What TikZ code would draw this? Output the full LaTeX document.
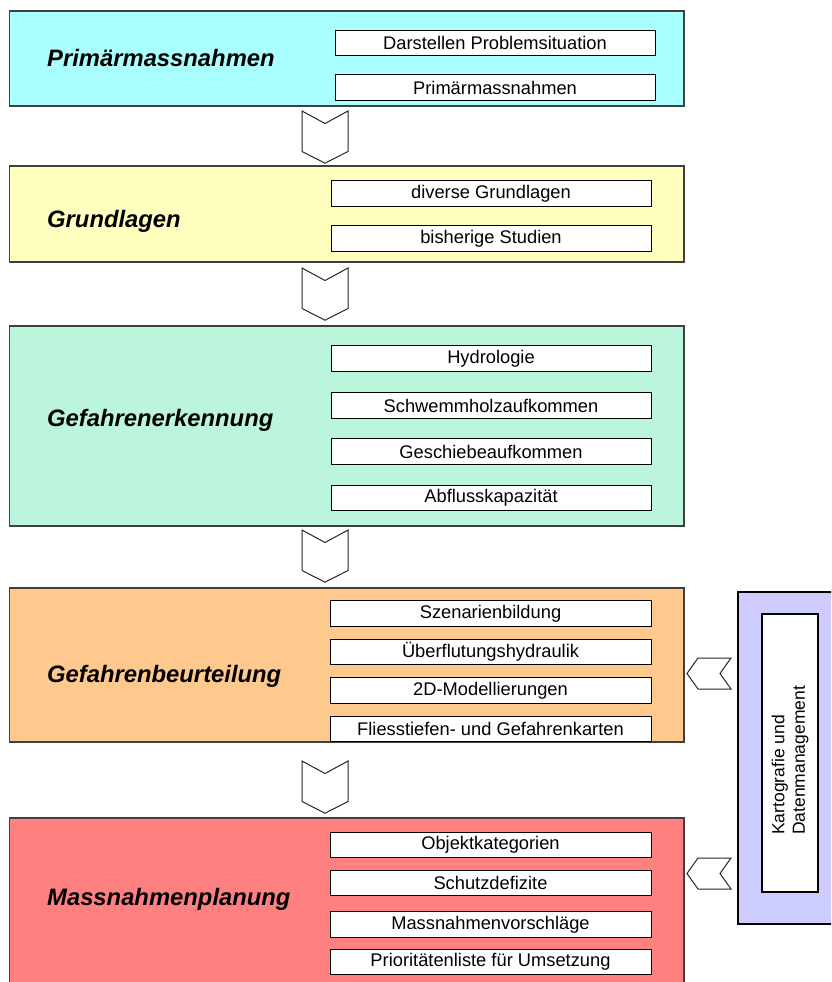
\documentclass[tikz,border=0pt]{standalone}
\usepackage{fontspec}
\setmainfont{Liberation Sans}
\setsansfont{Liberation Sans}
\definecolor{cyanbg}{RGB}{170,255,255}
\definecolor{yellowbg}{RGB}{255,255,192}
\definecolor{greenbg}{RGB}{187,245,220}
\definecolor{orangebg}{RGB}{255,200,140}
\definecolor{redbg}{RGB}{255,128,128}
\definecolor{purplebg}{RGB}{204,204,255}
\tikzset{
  mainbox/.style={draw=black!75, line width=1.3pt, inner sep=0pt, outer sep=0pt, minimum width=674.5pt},
  subbox/.style={draw=black, line width=1pt, fill=white, inner sep=0pt, outer sep=0pt,
    minimum height=25.5pt, font=\fontsize{18.3}{20}\selectfont},
  phase/.style={anchor=base west, inner sep=0pt, font=\fontsize{23.8}{27}\selectfont\bfseries\itshape},
  chev/.style={draw=black!85, line width=1pt, fill=white, line join=miter},
  sidebox/.style={draw=black, line width=1.2pt, inner sep=0pt, outer sep=0pt}
}
\begin{document}
\begin{tikzpicture}[x=1pt,y=-1pt]
\useasboundingbox (0,0) rectangle (831,982);
\clip (0,0) rectangle (831,982);

% main phase boxes
\node[mainbox, fill=cyanbg,   minimum height=95pt]  (b1) at (346.75,58.5) {};
\node[mainbox, fill=yellowbg, minimum height=96pt]  (b2) at (346.75,214) {};
\node[mainbox, fill=greenbg,  minimum height=200pt] (b3) at (346.75,426) {};
\node[mainbox, fill=orangebg, minimum height=154pt] (b4) at (346.75,665) {};
\node[mainbox, fill=redbg,    minimum height=177pt] (b5) at (346.75,906.5) {};

% phase labels
\node[phase] (l1) at (47,66.7) {Primärmassnahmen};
\node[phase] (l2) at (47,227) {Grundlagen};
\node[phase] (l3) at (47,426.7) {Gefahrenerkennung};
\node[phase] (l4) at (47,682) {Gefahrenbeurteilung};
\node[phase] (l5) at (47,905) {Massnahmenplanung};

% sub boxes
\node[subbox, minimum width=320pt] (s11) at (495,43) {Darstellen Problemsituation};
\node[subbox, minimum width=320pt] (s12) at (495,87.5) {Primärmassnahmen};

\node[subbox, minimum width=320pt] (s21) at (491,193.5) {diverse Grundlagen};
\node[subbox, minimum width=320pt] (s22) at (491,238.5) {bisherige Studien};

\node[subbox, minimum width=320pt] (s31) at (491,358.5) {Hydrologie};
\node[subbox, minimum width=320pt] (s32) at (491,405.5) {Schwemmholzaufkommen};
\node[subbox, minimum width=320pt] (s33) at (491,451.5) {Geschiebeaufkommen};
\node[subbox, minimum width=320pt] (s34) at (491,498) {Abflusskapazität};

\node[subbox, minimum width=321pt] (s41) at (490.5,613.5) {Szenarienbildung};
\node[subbox, minimum width=321pt] (s42) at (490.5,652) {Überflutungshydraulik};
\node[subbox, minimum width=321pt] (s43) at (490.5,690.5) {2D-Modellierungen};
\node[subbox, minimum width=321pt] (s44) at (490.5,728.75) {Fliesstiefen- und Gefahrenkarten};

\node[subbox, minimum width=321pt] (s51) at (490.5,845) {Objektkategorien};
\node[subbox, minimum width=321pt] (s52) at (490.5,883) {Schutzdefizite};
\node[subbox, minimum width=321pt] (s53) at (490.5,924.5) {Massnahmenvorschläge};
\node[subbox, minimum width=321pt] (s54) at (490.5,962) {Prioritätenliste für Umsetzung};

% side panel
\node[sidebox, fill=purplebg, minimum width=112pt, minimum height=332pt] (side) at (794,758) {};
\node[sidebox, fill=white, minimum width=56pt, minimum height=278pt] (sideinner) at (790,753) {};
\node[rotate=90, anchor=west, align=left, inner sep=0pt,
  font=\fontsize{17.5}{20.5}\selectfont] (sidetext) at (790,835) {Kartografie und\\Datenmanagement};

% down chevrons between phases
\coordinate (d1) at (325,111);
\coordinate (d2) at (325,268);
\coordinate (d3) at (325,530);
\coordinate (d4) at (325,761);
\foreach \c in {d1,d2,d3,d4}{
  \draw[chev] (\c) ++(-23,0) -- ++(23,12.5) -- ++(23,-12.5) -- ++(0,40.5) -- ++(-23,11.7) -- ++(-23,-11.7) -- cycle;
}

% left chevrons from side panel
\coordinate (e1) at (687,673.5);
\coordinate (e2) at (687,873.5);
\foreach \c in {e1,e2}{
  \draw[chev] (\c) -- ++(11,-15.5) -- ++(33,0) -- ++(-11,15.5) -- ++(11,15.5) -- ++(-33,0) -- cycle;
}
\end{tikzpicture}
\end{document}
